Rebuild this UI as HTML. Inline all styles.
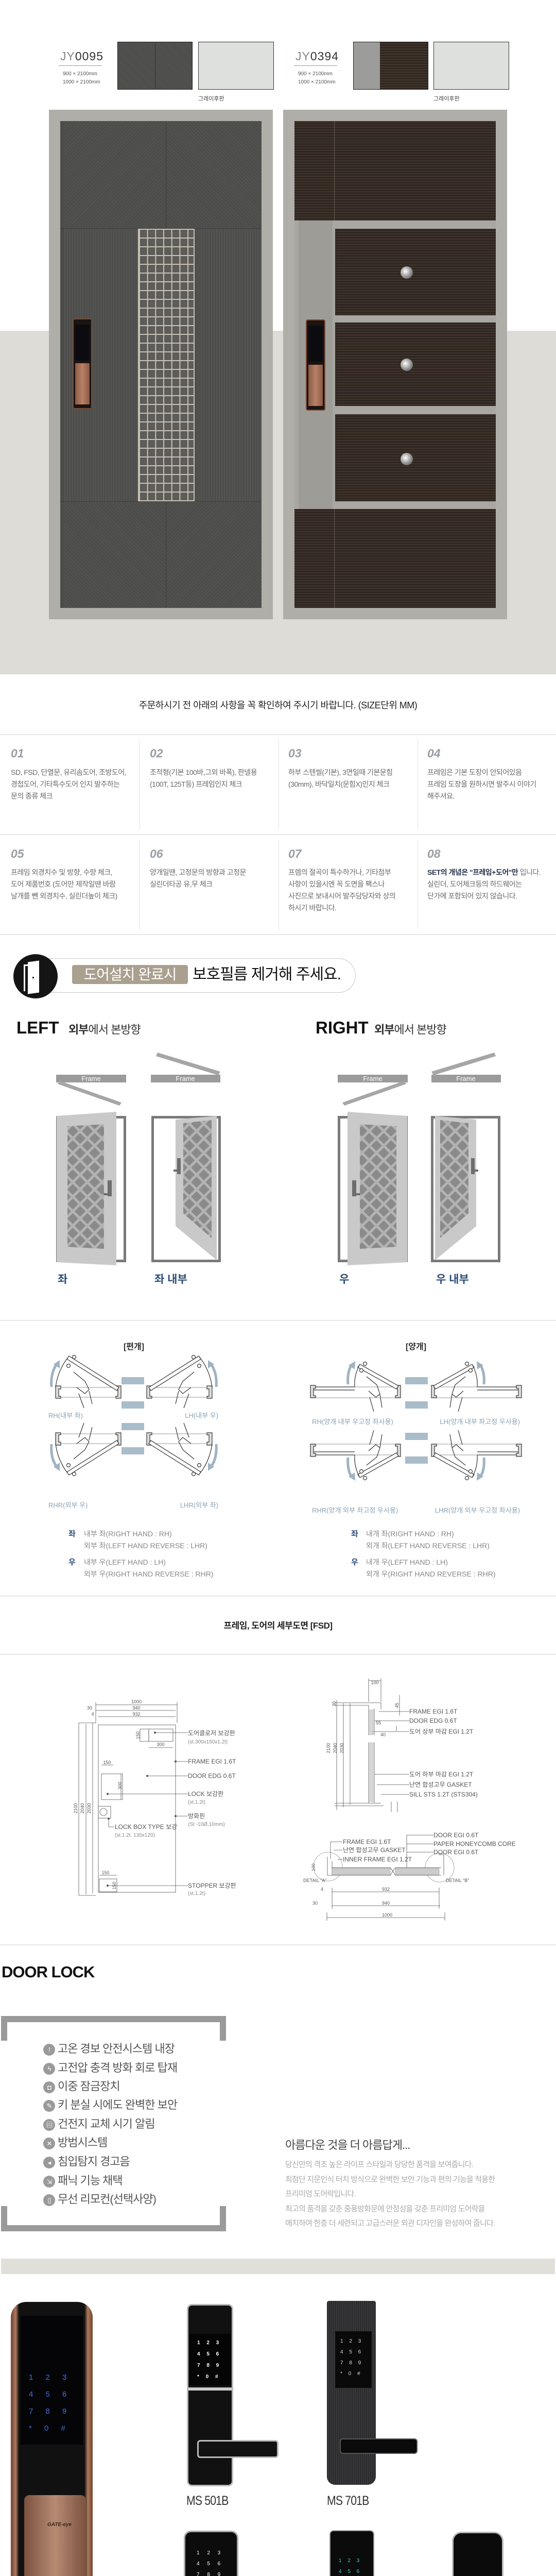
<!DOCTYPE html>
<html><head><meta charset="utf-8">
<style>
*{margin:0;padding:0;box-sizing:border-box}
html,body{width:1080px;height:5266px;overflow:hidden;background:#fff}
body{position:relative;font-family:"Liberation Sans","Noto Sans CJK KR",sans-serif;color:#333}
.a{position:absolute}
.t{position:absolute;white-space:nowrap}
.num{font-style:italic;font-size:23px;color:#9a9fa5;font-weight:bold}
.ct{font-size:14px;color:#6a6a6a;line-height:23px;letter-spacing:-0.5px}
.nar{font-family:"Liberation Sans Narrow","Liberation Sans","Noto Sans CJK KR",sans-serif}
.li{position:absolute;left:84px;width:340px;height:24px;font-size:22px;color:#555;letter-spacing:-1px;line-height:24px;white-space:nowrap}
.li i{position:absolute;left:0;top:0;width:23px;height:23px;border-radius:50%;background:#9a9a9a;color:#fff;font-style:normal;font-size:13px;text-align:center;line-height:23px}
.li span{position:absolute;left:28px;top:-2px;white-space:nowrap}
.lbl{position:absolute;font-size:25px;line-height:28px;color:#333;letter-spacing:-1px;transform:scaleX(.85);transform-origin:left;white-space:nowrap}
</style></head><body>

<div class="a" style="left:0;top:642px;width:1080px;height:667px;background:#dddcd7"></div>

<div class="t" style="left:117px;top:96px;font-size:23px;color:#333;letter-spacing:1px"><span style="color:#888">JY</span>0095</div>
<div class="a" style="left:114px;top:127px;width:84px;height:1px;background:#999"></div>
<div class="t" style="left:122px;top:136px;font-size:10px;color:#555;line-height:16px">900 × 2100mm<br>1000 × 2100mm</div>
<div class="a" style="left:228px;top:81px;width:146px;height:93px;border:1px solid #222;background:repeating-linear-gradient(45deg,#4a4b48 0 2px,#545552 2px 4px)"></div>
<div class="a" style="left:301px;top:81px;width:1px;height:93px;background:#333"></div>
<div class="a" style="left:385px;top:81px;width:147px;height:93px;border:1px solid #333;background:#dde0dc"></div>
<div class="t" style="left:385px;top:183px;font-size:11px;color:#444">그레이후판</div>

<div class="t" style="left:574px;top:96px;font-size:23px;color:#333;letter-spacing:1px"><span style="color:#888">JY</span>0394</div>
<div class="a" style="left:571px;top:127px;width:84px;height:1px;background:#999"></div>
<div class="t" style="left:579px;top:136px;font-size:10px;color:#555;line-height:16px">900 × 2100mm<br>1000 × 2100mm</div>
<div class="a" style="left:686px;top:81px;width:146px;height:93px;border:1px solid #222;background:#9c9c9a"></div>
<div class="a" style="left:738px;top:82px;width:93px;height:91px;background:repeating-linear-gradient(0deg,#2e251f 0 2px,#4b3f35 2px 3px,#382d26 3px 5px)"></div>
<div class="a" style="left:842px;top:81px;width:147px;height:93px;border:1px solid #333;background:#dde0dc"></div>
<div class="t" style="left:842px;top:183px;font-size:11px;color:#444">그레이후판</div>

<div class="a" style="left:95px;top:213px;width:435px;height:989px;background:#b0aea8"></div>
<div class="a" style="left:117px;top:235px;width:391px;height:945px;background:#4b4c49"></div>
<div class="a" style="left:123px;top:235px;width:199px;height:209px;background:repeating-linear-gradient(135deg,#4a4b48 0 2px,#565754 2px 3px,#4f504d 3px 5px)"></div>
<div class="a" style="left:322px;top:235px;width:186px;height:209px;background:repeating-linear-gradient(45deg,#4a4b48 0 2px,#565754 2px 3px,#4f504d 3px 5px)"></div>
<div class="a" style="left:123px;top:444px;width:385px;height:529px;background:repeating-linear-gradient(90deg,#4c4d4a 0 2px,#575855 2px 3px,#505150 3px 5px)"></div>
<div class="a" style="left:123px;top:973px;width:199px;height:207px;background:repeating-linear-gradient(45deg,#4a4b48 0 2px,#565754 2px 3px,#4f504d 3px 5px)"></div>
<div class="a" style="left:322px;top:973px;width:186px;height:207px;background:repeating-linear-gradient(135deg,#4a4b48 0 2px,#565754 2px 3px,#4f504d 3px 5px)"></div>
<div class="a" style="left:322px;top:235px;width:1px;height:945px;background:#3a3b38"></div>
<div class="a" style="left:117px;top:443px;width:391px;height:1px;background:#3e3f3c"></div>
<div class="a" style="left:117px;top:973px;width:391px;height:1px;background:#3e3f3c"></div>
<div class="a" style="left:268px;top:444px;width:110px;height:529px;background-color:#5d5c58;background-image:linear-gradient(90deg,#c9c2b7 2px,transparent 2px),linear-gradient(0deg,#c9c2b7 2px,transparent 2px);background-size:15.7px 17px;border:2px solid #c9c2b7"></div>
<div class="a" style="left:141px;top:618px;width:38px;height:176px;border-radius:4px;background:#1b1412;border:2px solid #7a4a35"></div>
<div class="a" style="left:146px;top:630px;width:28px;height:70px;background:#0c0c10"></div>
<div class="a" style="left:146px;top:705px;width:28px;height:80px;background:linear-gradient(90deg,#8b5a44,#b98166,#8b5a44)"></div>

<div class="a" style="left:550px;top:213px;width:435px;height:989px;background:#b0aea8"></div>
<div class="a" style="left:572px;top:235px;width:391px;height:945px;background:repeating-linear-gradient(0deg,#2c241f 0 2px,#4a3e35 2px 3px,#352b24 3px 5px)"></div>
<div class="a" style="left:649px;top:235px;width:1px;height:945px;background:#6a5e55"></div>
<div class="a" style="left:572px;top:428px;width:391px;height:560px;background:#a9a7a2"></div>
<div class="a" style="left:580px;top:428px;width:66px;height:560px;background:#9e9c97"></div>
<div class="a" style="left:651px;top:444px;width:312px;height:168px;background:repeating-linear-gradient(0deg,#2c241f 0 2px,#4a3e35 2px 3px,#352b24 3px 5px)"></div>
<div class="a" style="left:651px;top:626px;width:312px;height:162px;background:repeating-linear-gradient(0deg,#2c241f 0 2px,#4a3e35 2px 3px,#352b24 3px 5px)"></div>
<div class="a" style="left:651px;top:804px;width:312px;height:169px;background:repeating-linear-gradient(0deg,#2c241f 0 2px,#4a3e35 2px 3px,#352b24 3px 5px)"></div>
<div class="a" style="left:778px;top:517px;width:24px;height:24px;border-radius:50%;background:radial-gradient(circle at 40% 40%,#fff,#999 50%,#444)"></div>
<div class="a" style="left:778px;top:696px;width:24px;height:24px;border-radius:50%;background:radial-gradient(circle at 40% 40%,#fff,#999 50%,#444)"></div>
<div class="a" style="left:778px;top:879px;width:24px;height:24px;border-radius:50%;background:radial-gradient(circle at 40% 40%,#fff,#999 50%,#444)"></div>
<div class="a" style="left:594px;top:620px;width:38px;height:177px;border-radius:4px;background:#1b1412;border:2px solid #7a4a35"></div>
<div class="a" style="left:599px;top:632px;width:28px;height:70px;background:#0c0c10"></div>
<div class="a" style="left:599px;top:708px;width:28px;height:80px;background:linear-gradient(90deg,#8b5a44,#b98166,#8b5a44)"></div>

<div class="t" style="left:0;width:1080px;top:1355px;text-align:center;font-size:18px;color:#222;letter-spacing:-0.5px">주문하시기 전 아래의 사항을 꼭 확인하여 주시기 바랍니다. (SIZE단위 MM)</div>
<div class="a" style="left:0;top:1425px;width:1080px;height:2px;background:#e8e8e8"></div>
<div class="a" style="left:0;top:1619px;width:1080px;height:2px;background:#e8e8e8"></div>
<div class="a" style="left:0;top:1813px;width:1080px;height:2px;background:#e8e8e8"></div>
<div class="a" style="left:271px;top:1435px;width:1px;height:175px;background:#e2e2e2"></div>
<div class="a" style="left:541px;top:1435px;width:1px;height:175px;background:#e2e2e2"></div>
<div class="a" style="left:811px;top:1435px;width:1px;height:175px;background:#e2e2e2"></div>
<div class="a" style="left:271px;top:1630px;width:1px;height:175px;background:#e2e2e2"></div>
<div class="a" style="left:541px;top:1630px;width:1px;height:175px;background:#e2e2e2"></div>
<div class="a" style="left:811px;top:1630px;width:1px;height:175px;background:#e2e2e2"></div>

<div class="t num" style="left:21px;top:1449px">01</div>
<div class="t num" style="left:291px;top:1449px">02</div>
<div class="t num" style="left:560px;top:1449px">03</div>
<div class="t num" style="left:830px;top:1449px">04</div>
<div class="t ct" style="left:21px;top:1488px">SD, FSD, 단열문, 유리솜도어, 조방도어,<br>경첩도어, 기타특수도어 인지 발주하는<br>문의 종류 체크</div>
<div class="t ct" style="left:291px;top:1488px">조적형(기본 100바,그외 바폭), 판넬용<br>(100T, 125T등) 프레임인지 체크</div>
<div class="t ct" style="left:560px;top:1488px">하부 스텐씰(기본), 3면일때 기본문힘<br>(30mm), 바닥일치(문힘X)인지 체크</div>
<div class="t ct" style="left:830px;top:1488px">프레임은 기본 도장이 안되어있음<br>프레임 도장을 원하시면 발주시 이야기<br>해주셔요.</div>
<div class="t num" style="left:21px;top:1644px">05</div>
<div class="t num" style="left:291px;top:1644px">06</div>
<div class="t num" style="left:560px;top:1644px">07</div>
<div class="t num" style="left:830px;top:1644px">08</div>
<div class="t ct" style="left:21px;top:1682px">프레임 외경치수 및 방향, 수량 체크,<br>도어 제품번호 (도어만 제작일땐 바람<br>날개를 뺀 외경치수, 실린더높이 체크)</div>
<div class="t ct" style="left:291px;top:1682px">양개일땐, 고정문의 방향과 고정문<br>실린더타공 유,무 체크</div>
<div class="t ct" style="left:560px;top:1682px">프렘의 절곡이 특수하거나, 기타첨부<br>사항이 있을시엔 꼭 도면을 팩스나<br>사진으로 보내시어 발주담당자와 상의<br>하시기 바랍니다.</div>
<div class="t ct" style="left:830px;top:1682px"><b style="color:#2a3550">SET의 개념은 "프레임+도어"만</b> 입니다.<br>실린더, 도어체크등의 하드웨어는<br>단가에 포함되어 있지 않습니다.</div>

<div class="a" style="left:69px;top:1860px;width:622px;height:67px;border:1px solid #c8c8c8;border-left:none;border-radius:0 34px 34px 0"></div>
<div class="a" style="left:26px;top:1852px;width:86px;height:86px;border-radius:50%;background:#151515"></div>
<div class="a" style="left:46px;top:1872px;width:30px;height:52px;border:3px solid #fff;border-bottom:none"></div>
<div class="a" style="left:54px;top:1866px;width:22px;height:62px;background:#fff;transform:skewY(-8deg)"></div>
<div class="a" style="left:63px;top:1896px;width:3px;height:3px;background:#151515"></div>
<div class="a" style="left:140px;top:1873px;width:225px;height:37px;border-radius:4px;background:#aaa08f"></div>
<div class="t" style="left:140px;width:225px;top:1873px;line-height:37px;text-align:center;font-size:28px;color:#fff;letter-spacing:-1px">도어설치 완료시</div>
<div class="t" style="left:374px;top:1874px;line-height:36px;font-size:30px;color:#111;letter-spacing:-1px">보호필름 제거해 주세요.</div>

<div class="t" style="left:32px;top:1976px;font-size:33px;font-weight:bold;color:#111">LEFT</div>
<div class="t" style="left:133px;top:1981px;font-size:22px;color:#333;letter-spacing:-1px"><b>외부</b>에서 본방향</div>
<div class="t" style="left:613px;top:1976px;font-size:33px;font-weight:bold;color:#111">RIGHT</div>
<div class="t" style="left:727px;top:1981px;font-size:22px;color:#333;letter-spacing:-1px"><b>외부</b>에서 본방향</div>

<svg class="a" style="left:0;top:0;display:block" width="1080" height="5266" viewBox="0 0 1080 5266" xmlns="http://www.w3.org/2000/svg">
<defs>
<pattern id="lat" width="20" height="20" patternUnits="userSpaceOnUse" patternTransform="rotate(45)">
<rect width="20" height="20" fill="#8a8a8a"/><rect width="5" height="20" fill="#b3b3b3"/><rect width="20" height="5" fill="#b3b3b3"/>
</pattern>
<g id="doorA">
<rect x="111.5" y="2168.5" width="131" height="279" fill="#fff" stroke="#7a7a7a" stroke-width="5"/>
<polygon points="110,2166 226,2158 226,2456 110,2450" fill="#c9c9c9"/>
<polygon points="131,2186 202,2182 202,2424 131,2420" fill="url(#lat)"/>
<rect x="209" y="2291" width="8" height="31" fill="#6d6d6d"/><rect x="201" y="2316" width="10" height="4" fill="#6d6d6d"/>
<rect x="109" y="2086" width="136" height="15" fill="#9b9b9b"/>
<polygon points="112,2104 116,2098 236,2140 232,2146" fill="#a6a6a6"/>
</g>
<g id="doorB">
<rect x="296.5" y="2168.5" width="130" height="279" fill="#fff" stroke="#7a7a7a" stroke-width="5"/>
<polygon points="341,2173 421,2166 421,2446 341,2380" fill="#c9c9c9"/>
<polygon points="356,2180 411,2174 411,2403 356,2355" fill="url(#lat)"/>
<rect x="344" y="2248" width="7" height="31" fill="#6d6d6d"/><rect x="337" y="2270" width="10" height="4" fill="#6d6d6d"/>
<rect x="293" y="2086" width="135" height="15" fill="#9b9b9b"/>
<polygon points="303,2050 306,2043 428,2080 424,2087" fill="#a6a6a6"/>
</g>
<g id="qRH" fill="none" stroke="#333" stroke-width="1.2">
<line x1="108" y1="2693" x2="235" y2="2693" stroke="#aaa"/>
<line x1="108" y1="2712" x2="235" y2="2712" stroke="#aaa"/>
<path d="M108,2690 h10 v6 h-4 v14 h4 v4 h-10z" fill="#ddd"/>
<path d="M235,2690 h-10 v6 h4 v14 h-4 v4 h10z" fill="#ddd"/>
<polygon points="134,2632 231,2693 227,2699 130,2638" fill="#fff"/>
<path d="M108,2693 A118 118 0 0 1 131,2636"/>
<circle cx="144" cy="2634" r="3.5" fill="#fff"/><circle cx="133" cy="2651" r="3.5" fill="#fff"/>
<path d="M143,2663 l22,18 l8,16 l-8,8 l-16,-12 m24,7 l6,25 m-26,-20 l10,28" />
<path d="M100,2692 Q98,2665 110,2648" stroke="#9fb3c2" stroke-width="5"/>
<polygon points="104,2648 116,2640 116,2656" fill="#9fb3c2" stroke="none"/>
</g>
<g id="qY" fill="none" stroke="#333" stroke-width="1.2">
<line x1="603" y1="2692" x2="689" y2="2692"/>
<line x1="606" y1="2698" x2="689" y2="2698"/>
<line x1="603" y1="2713" x2="778" y2="2713" stroke="#aaa"/>
<line x1="689" y1="2692" x2="778" y2="2692" stroke="#aaa"/>
<path d="M603,2689 h10 v6 h-4 v14 h4 v4 h-10z" fill="#ddd"/>
<path d="M778,2689 h-10 v6 h4 v14 h-4 v4 h10z" fill="#ddd"/>
<polygon points="699,2648 774,2690 770,2696 695,2654" fill="#fff"/>
<path d="M689,2692 A80 80 0 0 1 698,2650"/>
<circle cx="709" cy="2647" r="3.5" fill="#fff"/><circle cx="702" cy="2660" r="3.5" fill="#fff"/>
<path d="M712,2672 l20,16 l6,18 l-8,6 l-14,-12 m22,7 l4,25 m-24,-20 l8,28"/>
<path d="M676,2687 Q674,2664 683,2649" stroke="#9fb3c2" stroke-width="5"/>
<polygon points="677,2650 690,2642 689,2658" fill="#9fb3c2" stroke="none"/>
</g>
</defs>

<use href="#doorA"/>
<use href="#doorB"/>
<use href="#doorA" transform="translate(901,0) scale(-1,1)"/>
<use href="#doorB" transform="translate(1266,0) scale(-1,1)"/>
<g font-family="Liberation Sans" font-size="13" fill="#fff" text-anchor="middle">
<text x="177" y="2098">Frame</text><text x="360" y="2098">Frame</text>
<text x="724" y="2098">Frame</text><text x="905" y="2098">Frame</text>
</g>

<use href="#qRH"/>
<use href="#qRH" transform="translate(520,0) scale(-1,1)"/>
<use href="#qRH" transform="translate(0,5495) scale(1,-1)"/>
<use href="#qRH" transform="translate(520,5495) scale(-1,-1)"/>
<use href="#qY"/>
<use href="#qY" transform="translate(1616,0) scale(-1,1)"/>
<use href="#qY" transform="translate(0,5516) scale(1,-1)"/>
<use href="#qY" transform="translate(1616,5516) scale(-1,-1)"/>
<g fill="#a9bcc9">
<rect x="236" y="2673" width="44" height="14"/><rect x="236" y="2720" width="44" height="14"/>
<rect x="236" y="2762" width="44" height="14"/><rect x="236" y="2809" width="44" height="14"/>
<rect x="787" y="2673" width="44" height="14"/><rect x="787" y="2720" width="44" height="14"/>
<rect x="787" y="2781" width="44" height="14"/><rect x="787" y="2827" width="44" height="14"/>
</g>

<g fill="none" stroke="#555" stroke-width="0.8">
<rect x="191" y="3348" width="150" height="325"/>
<line x1="153" y1="3344" x2="153" y2="3679"/><line x1="167" y1="3346" x2="167" y2="3677"/><line x1="180" y1="3344" x2="180" y2="3675"/>
<line x1="153" y1="3344" x2="186" y2="3344"/><line x1="153" y1="3679" x2="186" y2="3679"/>
<line x1="186" y1="3309" x2="344" y2="3309"/><line x1="186" y1="3320" x2="341" y2="3320"/><line x1="190" y1="3332" x2="341" y2="3332"/>
<line x1="186" y1="3304" x2="186" y2="3344"/><line x1="344" y1="3304" x2="344" y2="3344"/>
<rect x="289" y="3356" width="47" height="24"/><rect x="272" y="3356" width="17" height="24"/>
<line x1="289" y1="3392" x2="336" y2="3392"/>
<rect x="197" y="3443" width="41" height="50"/><line x1="197" y1="3426" x2="220" y2="3426"/><line x1="235" y1="3443" x2="235" y2="3493"/>
<rect x="191" y="3506" width="24" height="23"/><circle cx="201" cy="3517" r="7"/>
<rect x="193" y="3647" width="34" height="25"/><line x1="193" y1="3640" x2="227" y2="3640"/>
<path d="M301,3363 H365 M341,3419 H365 M286,3447 H365 M209,3482 H365 M341,3525 H365 M211,3530 V3546 H222 M209,3660 H365"/>
</g>
<g fill="#555"><circle cx="301" cy="3363" r="2"/><circle cx="341" cy="3419" r="2"/><circle cx="286" cy="3447" r="2"/><circle cx="209" cy="3482" r="2"/><circle cx="341" cy="3525" r="2"/><circle cx="211" cy="3530" r="2"/><circle cx="209" cy="3660" r="2"/></g>
<g font-family="Liberation Sans Narrow, Liberation Sans, Noto Sans CJK KR" font-size="9" fill="#555" text-anchor="middle">
<text x="265" y="3306">1000</text><text x="265" y="3318">940</text><text x="265" y="3330">932</text>
<text x="174" y="3318">30</text><text x="180" y="3330">4</text><text x="312" y="3389">300</text><text x="208" y="3424">150</text><text x="205" y="3638">150</text>
<text transform="translate(150,3510) rotate(-90)">2100</text><text transform="translate(163,3510) rotate(-90)">2040</text><text transform="translate(176,3510) rotate(-90)">2030</text>
<text transform="translate(271,3368) rotate(-90)">150</text><text transform="translate(236,3466) rotate(-90)">300</text><text transform="translate(225,3660) rotate(-90)">150</text>
</g>
<g font-family="Liberation Sans Narrow, Liberation Sans, Noto Sans CJK KR" font-size="12" fill="#555">
<text x="365" y="3368">도어클로저 보강판</text><text x="365" y="3384" font-size="10" fill="#888">(st.300x150x1.2t)</text>
<text x="365" y="3423">FRAME EGI 1.6T</text><text x="365" y="3451">DOOR EDG 0.6T</text>
<text x="365" y="3486">LOCK 보강판</text><text x="365" y="3501" font-size="10" fill="#888">(st.1.2t)</text>
<text x="365" y="3529">방화핀</text><text x="365" y="3544" font-size="10" fill="#888">(St -10Ø,10mm)</text>
<text x="223" y="3550">LOCK BOX TYPE 보강</text><text x="223" y="3565" font-size="10" fill="#888">(st.1.2t. 130x120)</text>
<text x="365" y="3664">STOPPER 보강판</text><text x="365" y="3678" font-size="10" fill="#888">(st.1.2t)</text>
</g>

<g fill="none" stroke="#555" stroke-width="0.8">
<path d="M654,3300 V3513 M667,3306 V3508 M680,3306 V3503"/>
<path d="M650,3305 H740 V3318 M650,3310 H716 M650,3500 H740 M650,3505 H745"/>
<path d="M716,3258 V3303 M740,3258 V3303 M716,3262 H740"/>
<path d="M716,3310 V3368 M727,3316 V3368 M716,3382 V3500 M727,3382 V3500"/>
<path d="M776,3290 V3330 M770,3350 V3360 M760,3497 V3517 M772,3497 V3517"/>
<path d="M736,3322 H795 M727,3340 H795 M722,3361 H795 M727,3444 H795 M732,3464 H795 M740,3483 H795"/>
</g>
<g fill="#bbb"><rect x="717" y="3318" width="9" height="50" opacity=".6"/><rect x="717" y="3382" width="9" height="116" opacity=".6"/></g>
<g font-family="Liberation Sans Narrow, Liberation Sans, Noto Sans CJK KR" font-size="12" fill="#555">
<text x="795" y="3326">FRAME EGI 1.6T</text><text x="795" y="3344">DOOR EDG 0.6T</text><text x="795" y="3365">도어 상부 마감 EGI 1.2T</text>
<text x="795" y="3448">도어 하부 마감 EGI 1.2T</text><text x="795" y="3468">난연 합성고무 GASKET</text><text x="795" y="3487">SILL STS 1.2T (STS304)</text>
</g>
<g font-family="Liberation Sans Narrow, Liberation Sans" font-size="9" fill="#555" text-anchor="middle">
<text x="728" y="3269">100</text>
<text transform="translate(641,3393) rotate(-90)">2100</text><text transform="translate(654,3393) rotate(-90)">2040</text><text transform="translate(667,3393) rotate(-90)">2030</text>
<text transform="translate(652,3307) rotate(-90)">30</text><text transform="translate(774,3310) rotate(-90)">45</text><text x="735" y="3347">55</text><text x="744" y="3370">40</text>
</g>

<g fill="none" stroke="#555" stroke-width="0.8">
<circle cx="637" cy="3623" r="28" stroke="#999"/><circle cx="854" cy="3625" r="28" stroke="#999"/>
<path d="M644,3625 H758 M644,3640 H758 M768,3625 H857 M768,3640 H857 M758,3625 l5,7 l-5,8 M768,3625 l-5,7 l5,8"/>
<path d="M636,3604 V3640 H644 M645,3612 V3640 M852,3600 H862 V3640"/>
<path d="M645,3672 H853 M645,3699 H855 M635,3722 H864 M635,3712 V3728 M864,3712 V3728 M645,3664 V3705 M853,3664 V3705"/>
<path d="M642,3575 H665 M642,3575 V3608 M648,3591 H665 M656,3609 H665 M790,3562 H842 M790,3579 H842 M790,3595 H842 M790,3562 V3628"/>
</g>
<g fill="#ccc" stroke="#888" stroke-width=".5"><rect x="645" y="3626" width="113" height="13"/><rect x="768" y="3626" width="85" height="13"/></g>
<g font-family="Liberation Sans Narrow, Liberation Sans, Noto Sans CJK KR" font-size="12" fill="#555">
<text x="666" y="3579">FRAME EGI 1.6T</text><text x="666" y="3595">난연 합성고무 GASKET</text><text x="666" y="3613">INNER FRAME EGI 1.2T</text>
<text x="842" y="3566">DOOR EGI 0.6T</text><text x="842" y="3583">PAPER HONEYCOMB CORE</text><text x="842" y="3599">DOOR EGI 0.6T</text>
<text x="589" y="3653" font-size="9">DETAIL "A"</text><text x="866" y="3653" font-size="9">DETAIL "B"</text>
<text x="623" y="3670" font-size="9">4</text><text x="607" y="3697" font-size="9">30</text>
<text x="742" y="3670" font-size="9">932</text><text x="742" y="3697" font-size="9">940</text><text x="742" y="3720" font-size="9">1000</text>
<text transform="translate(612,3632) rotate(-90)" font-size="9">100</text>
</g>
</svg>

<div class="t" style="left:112px;top:2467px;font-size:21px;color:#2f4f7a;font-weight:bold">좌</div>
<div class="t" style="left:300px;top:2467px;font-size:21px;color:#2f4f7a;font-weight:bold">좌 내부</div>
<div class="t" style="left:659px;top:2467px;font-size:21px;color:#2f4f7a;font-weight:bold">우</div>
<div class="t" style="left:847px;top:2467px;font-size:21px;color:#2f4f7a;font-weight:bold">우 내부</div>
<div class="a" style="left:0;top:2562px;width:1080px;height:2px;background:#e8e8e8"></div>

<div class="t" style="left:200px;width:120px;text-align:center;top:2600px;font-size:16px;font-weight:bold;color:#333">[편개]</div>
<div class="t" style="left:748px;width:120px;text-align:center;top:2600px;font-size:16px;font-weight:bold;color:#333">[양개]</div>
<div class="t nar" style="left:94px;top:2737px;font-size:13px;color:#8aa3b5">RH(내부 좌)</div>
<div class="t nar" style="left:324px;width:100px;text-align:right;top:2737px;font-size:13px;color:#8aa3b5">LH(내부 우)</div>
<div class="t nar" style="left:94px;top:2911px;font-size:13px;color:#8aa3b5">RHR(외부 우)</div>
<div class="t nar" style="left:324px;width:100px;text-align:right;top:2911px;font-size:13px;color:#8aa3b5">LHR(외부 좌)</div>
<div class="t nar" style="left:606px;top:2749px;font-size:13px;color:#8aa3b5">RH(양개 내부 우고정 좌사용)</div>
<div class="t nar" style="left:810px;width:200px;text-align:right;top:2749px;font-size:13px;color:#8aa3b5">LH(양개 내부 좌고정 우사용)</div>
<div class="t nar" style="left:606px;top:2921px;font-size:13px;color:#8aa3b5">RHR(양개 외부 좌고정 우사용)</div>
<div class="t nar" style="left:810px;width:200px;text-align:right;top:2921px;font-size:13px;color:#8aa3b5">LHR(양개 외부 우고정 좌사용)</div>

<div class="t" style="left:133px;top:2966px;font-size:15px;font-weight:bold;color:#2f4f7a">좌</div>
<div class="t nar" style="left:163px;top:2966px;font-size:14px;color:#888;line-height:23px">내부 좌(RIGHT HAND : RH)<br>외부 좌(LEFT HAND REVERSE : LHR)</div>
<div class="t" style="left:133px;top:3021px;font-size:15px;font-weight:bold;color:#2f4f7a">우</div>
<div class="t nar" style="left:163px;top:3021px;font-size:14px;color:#888;line-height:23px">내부 우(LEFT HAND : LH)<br>외부 우(RIGHT HAND REVERSE : RHR)</div>
<div class="t" style="left:682px;top:2966px;font-size:15px;font-weight:bold;color:#2f4f7a">좌</div>
<div class="t nar" style="left:711px;top:2966px;font-size:14px;color:#888;line-height:23px">내개 좌(RIGHT HAND : RH)<br>외개 좌(LEFT HAND REVERSE : LHR)</div>
<div class="t" style="left:682px;top:3021px;font-size:15px;font-weight:bold;color:#2f4f7a">우</div>
<div class="t nar" style="left:711px;top:3021px;font-size:14px;color:#888;line-height:23px">내개 우(LEFT HAND : LH)<br>외개 우(RIGHT HAND REVERSE : RHR)</div>

<div class="a" style="left:0;top:3097px;width:1080px;height:2px;background:#e8e8e8"></div>
<div class="t" style="left:0;width:1080px;text-align:center;top:3141px;font-size:17px;font-weight:bold;color:#222;letter-spacing:-0.5px">프레임, 도어의 세부도면 [FSD]</div>
<div class="a" style="left:0;top:3210px;width:1080px;height:2px;background:#e8e8e8"></div>
<div class="a" style="left:0;top:3774px;width:1080px;height:2px;background:#e8e8e8"></div>

<div class="t" style="left:3px;top:3810px;font-size:31px;font-weight:bold;color:#111;letter-spacing:-1px">DOOR LOCK</div>
<div class="a" style="left:2px;top:3913px;width:437px;height:12px;background:#9a9a9a"></div>
<div class="a" style="left:2px;top:3913px;width:12px;height:48px;background:#9a9a9a"></div>
<div class="a" style="left:427px;top:3913px;width:12px;height:48px;background:#9a9a9a"></div>
<div class="a" style="left:2px;top:4319px;width:437px;height:12px;background:#9a9a9a"></div>
<div class="a" style="left:2px;top:4282px;width:12px;height:49px;background:#9a9a9a"></div>
<div class="a" style="left:427px;top:4282px;width:12px;height:49px;background:#9a9a9a"></div>

<div class="li" style="top:3967px"><i>!</i><span>고온 경보 안전시스템 내장</span></div>
<div class="li" style="top:4004px"><i>ϟ</i><span>고전압 충격 방화 회로 탑재</span></div>
<div class="li" style="top:4040px"><i>◘</i><span>이중 잠금장치</span></div>
<div class="li" style="top:4076px"><i>✎</i><span>키 분실 시에도 완벽한 보안</span></div>
<div class="li" style="top:4113px"><i>▤</i><span>건전지 교체 시기 알림</span></div>
<div class="li" style="top:4149px"><i>✕</i><span>방범시스템</span></div>
<div class="li" style="top:4186px"><i>◂</i><span>침입탐지 경고음</span></div>
<div class="li" style="top:4223px"><i>⇲</i><span>패닉 기능 채택</span></div>
<div class="li" style="top:4259px"><i>▯</i><span>무선 리모컨(선택사양)</span></div>

<div class="t" style="left:554px;top:4146px;font-size:22px;color:#444;letter-spacing:-1px">아름다운 것을 더 아름답게...</div>
<div class="t" style="left:554px;top:4188px;font-size:15px;color:#aaa;line-height:28.5px;letter-spacing:-0.8px">당신만의 격조 높은 라이프 스타일과 당당한 품격을 보여줍니다.<br>최첨단 지문인식 터치 방식으로 완벽한 보안 기능과 편의 기능을 적용한<br>프리미엄 도어락입니다.<br>최고의 품격을 갖춘 중용방화문에 안정성을 갖춘 프리미엄 도어락을<br>매치하여 한층 더 세련되고 고급스러운 외관 디자인을 완성하여 줍니다.</div>

<div class="a" style="left:2px;top:4384px;width:1076px;height:30px;background:#e0dfd9"></div>

<div class="a" style="left:21px;top:4468px;width:159px;height:714px;border-radius:30px 30px 12px 12px;background:linear-gradient(90deg,#6e4330,#b07a5c 6%,#111 10%,#111 90%,#b07a5c 94%,#6e4330)"></div>
<div class="a" style="left:40px;top:4495px;width:121px;height:250px;background:#050508"></div>
<div class="a" style="left:47px;top:4843px;width:120px;height:284px;border-radius:10px 10px 0 0;background:linear-gradient(90deg,#7b5240,#b78a73 50%,#7b5240)"></div>
<div class="t" style="left:56px;top:4598px;font-size:15px;color:#3a6fe0;line-height:33px;word-spacing:20px">1 2 3<br>4 5 6<br>7 8 9<br>* 0 #</div>
<div class="t" style="left:92px;top:4895px;font-size:10px;color:#3a2518;font-style:italic;font-weight:bold">GATE-eye</div>

<div class="a" style="left:363px;top:4472px;width:90px;height:354px;border-radius:10px;background:#111;border:3px solid #bbb"></div>
<div class="a" style="left:368px;top:4530px;width:80px;height:100px;background:#050505"></div>
<div class="t" style="left:383px;top:4537px;font-size:10px;color:#fff;line-height:22px;word-spacing:10px;font-weight:bold">1 2 3<br>4 5 6<br>7 8 9<br>* 0 #</div>
<div class="a" style="left:366px;top:4634px;width:84px;height:6px;background:#ccc"></div>
<div class="a" style="left:383px;top:4736px;width:158px;height:35px;border-radius:6px;background:#111;border:3px solid #bbb"></div>
<div class="a" style="left:635px;top:4466px;width:95px;height:357px;border-radius:4px 4px 16px 16px;background:repeating-linear-gradient(90deg,#2b2b2d 0 2px,#38383a 2px 4px)"></div>
<div class="a" style="left:651px;top:4525px;width:71px;height:110px;background:#0a0a0a"></div>
<div class="t" style="left:661px;top:4534px;font-size:10px;color:#ddd;line-height:21px;word-spacing:9px">1 2 3<br>4 5 6<br>7 8 9<br>* 0 #</div>
<div class="a" style="left:660px;top:4733px;width:151px;height:30px;border-radius:6px;background:#0a0a0a;border:2px solid #555"></div>
<div class="a" style="left:357px;top:4912px;width:106px;height:300px;border-radius:14px;background:#0c0c0c;border:3px solid #aaa"></div>
<div class="t" style="left:382px;top:4945px;font-size:10px;color:#fff;line-height:21px;word-spacing:12px">1 2 3<br>4 5 6<br>7 8 9<br>* 0 #</div>
<div class="a" style="left:390px;top:5117px;width:161px;height:35px;border-radius:3px;background:linear-gradient(#ddd,#a8a8a8)"></div>
<div class="a" style="left:640px;top:4911px;width:87px;height:308px;border-radius:8px;background:#0b0b0b;border:2px solid #999"></div>
<div class="t" style="left:658px;top:4960px;font-size:10px;color:#4cc;line-height:21px;word-spacing:9px">1 2 3<br>4 5 6<br>7 8 9<br>* 0 #</div>
<div class="a" style="left:665px;top:5137px;width:146px;height:30px;border-radius:3px;background:#ece8da"></div>
<div class="a" style="left:878px;top:4914px;width:100px;height:303px;border-radius:18px 18px 14px 14px;background:#0b0b0b;border:3px solid #bbb"></div>
<div class="a" style="left:940px;top:5000px;width:20px;height:60px;border-left:3px solid #8a3a9a;border-radius:50%"></div>
<div class="a" style="left:900px;top:5132px;width:174px;height:35px;border-radius:5px;background:#0b0b0b;border:3px solid #bbb"></div>

<div class="lbl" style="left:362px;top:4840px">MS 501B</div>
<div class="lbl" style="left:635px;top:4840px">MS 701B</div>
<div class="lbl" style="left:34px;top:5226px">MSP 300</div>
<div class="a" style="left:129px;top:5232px;width:31px;height:19px;background:#d9232e;color:#fff;font-size:13px;font-weight:bold;text-align:center;line-height:19px">NEW</div>
<div class="lbl" style="left:362px;top:5226px">MS 830B</div>
<div class="lbl" style="left:647px;top:5226px">MS 902</div>
<div class="lbl" style="left:883px;top:5226px">MS 601B</div>
</body></html>
